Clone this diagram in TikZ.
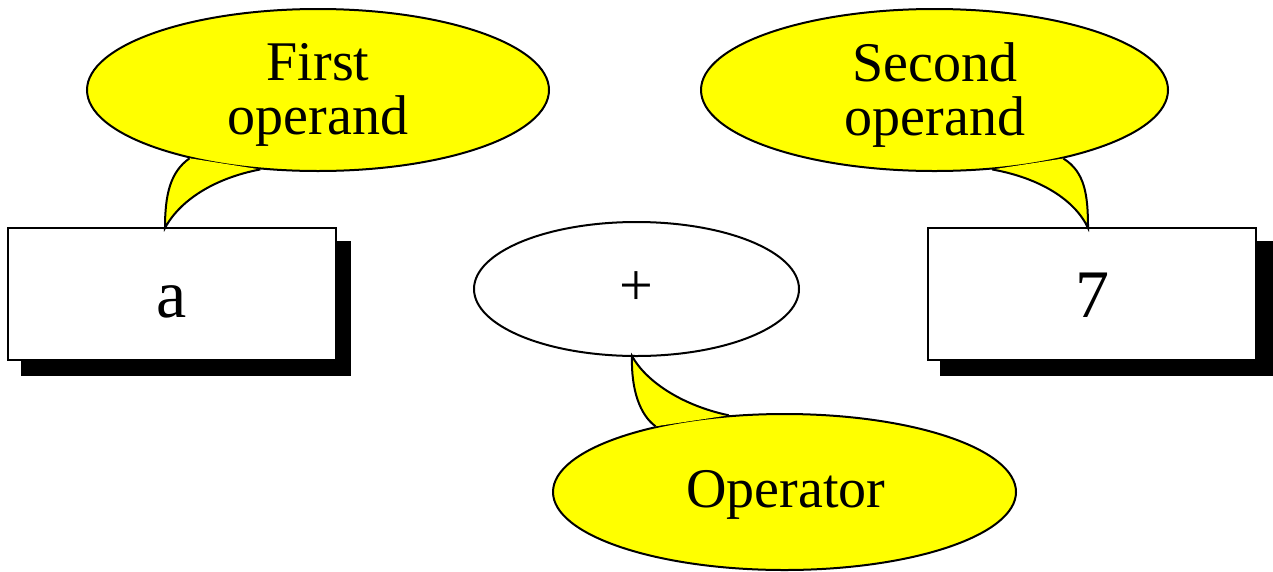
\documentclass[tikz,border=0pt]{standalone}
\usepackage{fontspec}
\setmainfont{Liberation Serif}
\usetikzlibrary{shapes.geometric,calc}
\definecolor{bubble}{HTML}{FFFF00}
\tikzset{
  outline/.style={draw=black, line width=2pt},
  valuebox/.style={outline, fill=white, rectangle, minimum width=328pt, minimum height=132pt,
    inner sep=0pt, font=\fontsize{68}{68}\selectfont, text height=50pt, text depth=4pt},
  opshape/.style={outline, fill=white, ellipse, minimum width=325pt, minimum height=134pt,
    inner sep=0pt, font=\fontsize{60}{60}\selectfont},
  bubbleshape/.style={outline, fill=bubble, ellipse, inner sep=0pt},
  bubbletext/.style={align=center, inner sep=0pt, font=\fontsize{56}{54}\selectfont},
  tailline/.style={line width=2pt},
  shadowfill/.style={fill=black},
}
\begin{document}
\begin{tikzpicture}[x=1pt, y=-1pt]
\useasboundingbox (0,0) rectangle (1273,571);

% value boxes with their hard shadows
\fill[shadowfill] (21,241) rectangle (351,376);
\node[valuebox] (a) at (172,294) {a};
\fill[shadowfill] (940,241) rectangle (1273,376);
\node[valuebox] (seven) at (1092,294) {7};

% operator
\node[opshape] (op) at (636.5,289) {+};

% first operand bubble
\node[bubbleshape, minimum width=462pt, minimum height=162pt] (c1) at (318,90) {};
\coordinate (tip1) at (165,228);
\fill[bubble] (c1.208) .. controls (170,172) and (165,195) .. (tip1)
  .. controls (180,200) and (215,178) .. (c1.234) -- cycle;
\draw[tailline] (c1.208) .. controls (170,172) and (165,195) .. (tip1)
  .. controls (180,200) and (215,178) .. (c1.234);
\node[bubbletext] (t1) at (318,95) {First\\operand};

% second operand bubble
\node[bubbleshape, minimum width=467pt, minimum height=162pt] (c2) at (934.5,90) {};
\coordinate (tip2) at (1088,228);
\fill[bubble] (c2.306) .. controls (1040,178) and (1075,200) .. (tip2)
  .. controls (1088,195) and (1085,172) .. (c2.332) -- cycle;
\draw[tailline] (c2.306) .. controls (1040,178) and (1075,200) .. (tip2)
  .. controls (1088,195) and (1085,172) .. (c2.332);
\node[bubbletext] (t2) at (935,95) {Second\\operand};

% operator bubble
\node[bubbleshape, minimum width=463pt, minimum height=156pt] (c3) at (784.5,492) {};
\coordinate (tip3) at (632,356);
\fill[bubble] (c3.153) .. controls (640,415) and (631,390) .. (tip3)
  .. controls (645,380) and (680,405) .. (c3.126) -- cycle;
\draw[tailline] (c3.153) .. controls (640,415) and (631,390) .. (tip3)
  .. controls (645,380) and (680,405) .. (c3.126);
\node[bubbletext] (t3) at (786,495) {Operator};
\end{tikzpicture}
\end{document}
